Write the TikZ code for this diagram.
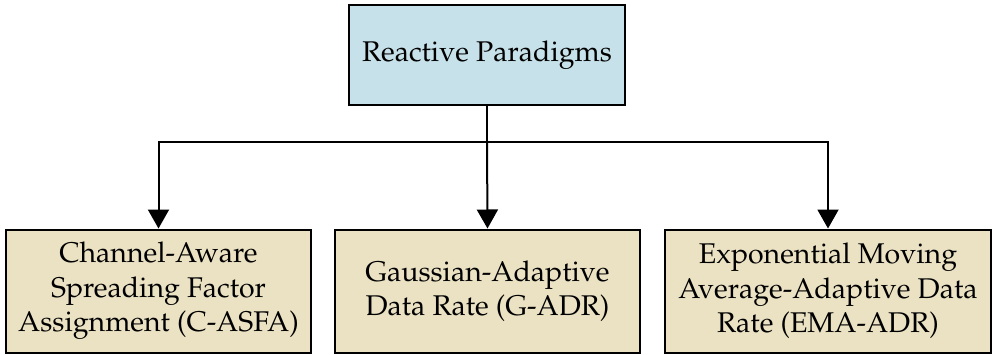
\documentclass[tikz,border=0pt]{standalone}
\usepackage[T1]{fontenc}
\usepackage{mathpazo}
\usetikzlibrary{arrows.meta}
\definecolor{topfill}{RGB}{198,225,233}
\definecolor{leaffill}{RGB}{235,226,196}
\tikzset{
  box/.style={draw=black, line width=2pt, align=center, inner sep=0pt,
    font=\fontsize{28.5}{34.5}\selectfont},
  topbox/.style={box, fill=topfill, minimum width=276pt, minimum height=100pt},
  leafbox/.style={box, fill=leaffill, minimum height=123pt},
  conn/.style={line width=2pt},
  arr/.style={conn, -{Triangle[width=21pt,length=19pt]}}
}
\begin{document}
\begin{tikzpicture}[x=1pt,y=1pt]
\useasboundingbox (0,0) rectangle (992,354);
\node[topbox] (top) at (487,299) {Reactive Paradigms};
\node[leafbox, minimum width=305pt] (left) at (158.5,63) {Channel-Aware\\Spreading Factor\\Assignment (C-ASFA)};
\node[leafbox, minimum width=305pt] (mid) at (487.5,63) {Gaussian-Adaptive\\Data Rate (G-ADR)};
\node[leafbox, minimum width=326pt] (right) at (828,63) {Exponential Moving\\Average-Adaptive Data\\Rate (EMA-ADR)};
\coordinate (j) at (487,212);
\draw[conn] (top.south) -- (j);
\draw[arr] (j) -| (left.north);
\draw[arr] (j) -- (mid.north);
\draw[arr] (j) -| (right.north);
\end{tikzpicture}
\end{document}
